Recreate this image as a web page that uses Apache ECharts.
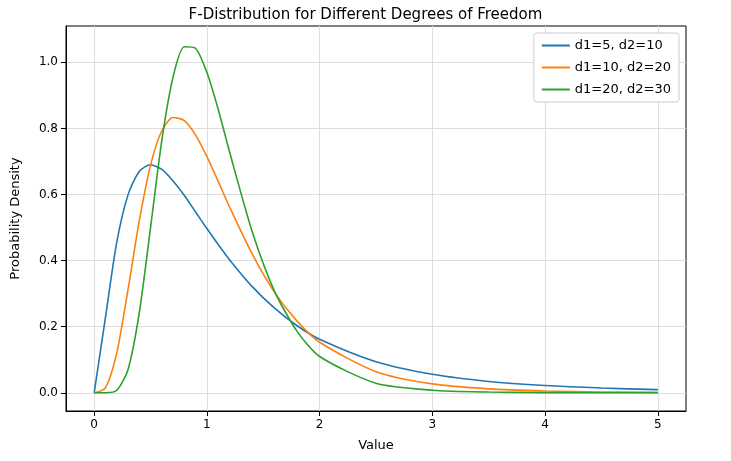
<!DOCTYPE html>
<html>
<head>
<meta charset="utf-8">
<script src="https://cdn.jsdelivr.net/npm/echarts@6/dist/echarts.min.js"></script>
<style>html,body{margin:0;padding:0;background:#fff}#chart{width:731px;height:461px}</style>
</head>
<body>
<div id="chart"></div>
<script>
// values
var xs = [0, 0.1, 0.2, 0.3, 0.4, 0.5, 0.6, 0.7, 0.8, 0.9, 1.0, 1.1, 1.2, 1.4, 1.6, 1.8, 2.0, 2.5, 3.0, 3.5, 4.0, 4.5, 5.0];
var f5_10 = [0, 0.228, 0.455, 0.599, 0.670, 0.690, 0.676, 0.641, 0.597, 0.547, 0.497, 0.449, 0.403, 0.322, 0.256, 0.203, 0.162, 0.094, 0.056, 0.0345, 0.022, 0.0144, 0.0096];
var f10_20 = [0, 0.015, 0.12, 0.312, 0.52, 0.689, 0.793, 0.833, 0.824, 0.78, 0.715, 0.64, 0.563, 0.421, 0.304, 0.217, 0.153, 0.064, 0.027, 0.012, 0.0056, 0.0027, 0.0013];
var f20_30 = [0, 0.0001, 0.0076, 0.070, 0.242, 0.50, 0.764, 0.956, 1.047, 1.042, 0.969, 0.858, 0.73, 0.49, 0.307, 0.186, 0.110, 0.029, 0.0079, 0.0023, 0.0007, 0.0002, 0.0001];
var xTicks = [0, 1, 2, 3, 4, 5];
var yTicks = [0, 0.2, 0.4, 0.6, 0.8, 1.0];

function pairs(ys) {
    var out = [];
    for (var i = 0; i < xs.length; i++) out.push([xs[i], ys[i]]);
    return out;
}

var myChart = echarts.init(document.getElementById('chart'));
var font = 'DejaVu Sans';
var option = {
    animation: false,
    textStyle: { fontFamily: font },
    title: {
        text: 'F-Distribution for Different Degrees of Freedom',
        left: 'center', top: 3,
        textStyle: { fontFamily: font, fontSize: 15, fontWeight: 'normal', color: '#000' }
    },
    color: ['#1f77b4', '#ff7f0e', '#2ca02c'],
    legend: {
        orient: 'vertical', right: 52, top: 33,
        itemWidth: 28, itemHeight: 2, itemGap: 9,
        icon: 'rect',
        backgroundColor: '#fff', borderColor: '#ccc', borderWidth: 1, borderRadius: 3,
        padding: [6, 8],
        textStyle: { fontFamily: font, fontSize: 13, color: '#000' }
    },
    grid: { left: 66, right: 45, top: 26, bottom: 50, show: true, borderColor: '#000', borderWidth: 1 },
    xAxis: {
        type: 'value', min: -0.25, max: 5.25,
        name: 'Value', nameLocation: 'middle', nameGap: 28,
        nameTextStyle: { fontFamily: font, fontSize: 13, color: '#000' },
        axisLine: { onZero: false, lineStyle: { color: '#000' } },
        axisTick: { customValues: xTicks, lineStyle: { color: '#000' } },
        axisLabel: { customValues: xTicks, color: '#000', fontSize: 12 },
        splitLine: { show: true, lineStyle: { color: '#ddd' } }
    },
    yAxis: {
        type: 'value', min: -0.055, max: 1.11,
        name: 'Probability Density', nameLocation: 'middle', nameGap: 44,
        nameTextStyle: { fontFamily: font, fontSize: 13, color: '#000' },
        axisLine: { show: true, onZero: false, lineStyle: { color: '#000' } },
        axisTick: { show: true, customValues: yTicks, lineStyle: { color: '#000' } },
        axisLabel: { customValues: yTicks, color: '#000', fontSize: 12,
            formatter: function (v) { return v.toFixed(1); } },
        splitLine: { show: true, lineStyle: { color: '#ddd' } }
    },
    series: [
        { name: 'd1=5, d2=10', type: 'line', data: pairs(f5_10), smooth: 0.25, showSymbol: false, lineStyle: { width: 1.6 } },
        { name: 'd1=10, d2=20', type: 'line', data: pairs(f10_20), smooth: 0.25, showSymbol: false, lineStyle: { width: 1.6 } },
        { name: 'd1=20, d2=30', type: 'line', data: pairs(f20_30), smooth: 0.25, showSymbol: false, lineStyle: { width: 1.6 } }
    ]
};
myChart.setOption(option);
</script>
</body>
</html>
